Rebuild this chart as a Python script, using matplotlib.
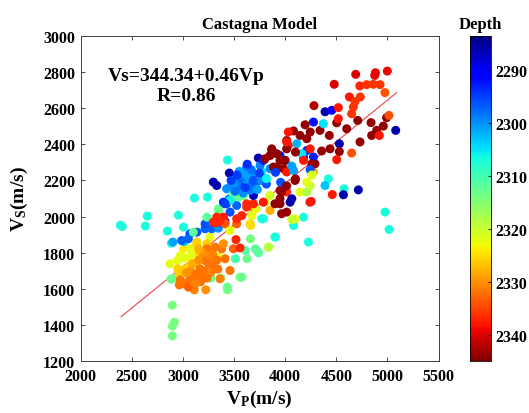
import matplotlib
matplotlib.use("Agg")
import matplotlib.pyplot as plt
import numpy as np

plt.rcParams['font.family'] = ['Liberation Serif', 'DejaVu Serif']
plt.rcParams['font.weight'] = 'bold'
plt.rcParams['mathtext.fontset'] = 'custom'
plt.rcParams['mathtext.rm'] = 'Liberation Serif:bold'
plt.rcParams['mathtext.it'] = 'Liberation Serif:bold'
plt.rcParams['mathtext.bf'] = 'Liberation Serif:bold'

# ---- data: (Vp, Vs, Depth) ----
left_outliers = [(2388,1953,2307),(2407,1945,2307),(2652,2003,2307),(2633,1948,2307),
                 (2848,1920,2307),(2956,2008,2307),(3006,1942,2307),(2887,1853,2307),
                 (3112,2103,2307),(3240,2108,2307),(3436,2313,2307)]
low_green = [(2897,1510,2314),(2917,1416,2314),(2897,1394,2314),(2897,1340,2314),(2883,1654,2313)]
lower_cluster = [
    (2874,1739,2322),(2946,1757,2322),(3011,1772,2322),(3069,1776,2322),(3102,1794,2322),
    (2972,1781,2322),(3266,1887,2322),(3347,1776,2323),(3069,1822,2322),(3006,1822,2324),
    (2965,1683,2326),(2950,1711,2326),(3021,1711,2326),(3069,1729,2326),(3136,1739,2326),
    (3136,1850,2326),(3234,1850,2326),(3167,1794,2326),(3136,1859,2326),
    (2965,1622,2332),(3021,1628,2332),(3069,1656,2332),(3102,1660,2332),(3112,1595,2331),
    (3224,1595,2330),(3200,1674,2332),(3167,1711,2332),(3217,1757,2332),(3265,1776,2331),
    (3234,1822,2332),(3315,1831,2332),(3298,1720,2332),(3363,1656,2331),(3461,1702,2332),
    (3413,1767,2332),(3380,1822,2332),(3396,1850,2330),(3494,1822,2333),
    (3075,1700,2330),(3125,1680,2332),(3174,1640,2332),(3036,1690,2330),(3095,1740,2328),
    (3155,1760,2330),(3214,1700,2332),(3253,1740,2332),(3293,1790,2331),(3332,1760,2332),
    (2976,1650,2332),(3055,1610,2333),(3125,1630,2331),(3234,1660,2332),(3273,1690,2331),
    (3342,1710,2332),(3194,1800,2330),(3155,1820,2328),
    (3519,1873,2337),(3559,1827,2337),
]
green_band = [(3273,1660,2313),(3370,1660,2314),(3559,1665,2314),(3437,1595,2314),
              (3513,1767,2310),(3627,1767,2313),(3611,1813,2311),(3739,1800,2311),
              (3660,1877,2314),(3708,1822,2312),(3840,1831,2318),(3904,1887,2307),
              (3435,1610,2313),(3577,1665,2313),(3722,1813,2312),(3835,1831,2319),
              (2900,1656,2313)]
blue_band = [(2902,1859,2301),(3011,1862,2303),(3069,1905,2296),(3136,1914,2296),
             (3217,1933,2297),(3282,1933,2297),(3053,1877,2297),(3347,1936,2300),
             (3363,1970,2295),(3413,1973,2295),(3461,2025,2296),(3428,2071,2296),
             (3454,2099,2300),(3526,2062,2297),(2988,1868,2297),(3217,1960,2296),
             (3102,1914,2312),(3494,2108,2312),(3542,2108,2312),(3591,2117,2313),
             (3347,2034,2313),(3234,1997,2312),(3347,2043,2313),
             (3331,2172,2286),(3298,2191,2286),(3461,2163,2300),(3559,2172,2293)]
mid_reds = [(3315,1966,2337),(3396,1997,2338),(3347,1970,2337),(3413,1960,2334),
            (3461,1923,2322),(3526,1960,2333),(3624,2071,2337),(3674,2058,2333),
            (3715,2043,2322),(3803,2080,2322),(3852,2034,2328),(3900,2071,2344),
            (3965,2016,2344),(3771,1988,2307),(3663,1951,2325),
            (3787,2080,2338),(3690,2071,2337),(3624,2053,2337),(3576,2006,2337),
            (3526,1988,2337),(3363,1979,2337),(3298,1970,2337),(3331,1997,2337),
            (3852,2117,2321),(3674,2006,2322)]
core = [(3454,2241,2286),(3738,2324,2286),(3690,2117,2287),
        (3582,2247,2306),(3803,2213,2306),(3771,2247,2305),
        (3428,2154,2300),(3542,2200,2298),(3640,2191,2301),(3722,2191,2298),
        (3690,2237,2300),(3624,2274,2298),(3755,2283,2299),(3852,2265,2300),
        (3559,2154,2298),(3657,2145,2299),(3494,2126,2312),(3461,2089,2306),
        (3396,2080,2294),(3413,2071,2295),
        (3500,2180,2300),(3570,2210,2298),(3619,2230,2301),(3668,2170,2298),
        (3728,2150,2301),(3768,2200,2300),(3510,2140,2298),(3590,2130,2300),
        (3668,2260,2298),(3550,2250,2301),(3471,2200,2295),(3530,2230,2295),
        (3609,2160,2295),(3688,2200,2296),(3748,2240,2295),(3817,2180,2296),
        (3629,2290,2294),(3787,2311,2293),(3950,2338,2293),(3999,2311,2292),
        (3852,2338,2344),(3869,2366,2344),(3917,2274,2344),(3983,2265,2344),
        (3950,2145,2344),(3950,2099,2344),
        (4031,2394,2338),(4015,2247,2338),(4015,2136,2337)]
right_mid = [(3787,1988,2307),(3900,1887,2307),(4228,1859,2307),(4180,1997,2307),
             (4082,1951,2307),(4015,2025,2344),(3950,2071,2344),(3965,2136,2344),
             (4048,2080,2286),(4065,2099,2286),(4242,2080,2338),(4097,1988,2322),
             (4146,2136,2322),(4212,2136,2318),(3657,1960,2325),
             (4422,2209,2307),(4390,2172,2303),(4461,2122,2338),(4576,2154,2307),
             (4570,2121,2286),(4716,2148,2286),(4255,2084,2338),(4065,1984,2320),
             (4976,2025,2307),(5016,1929,2307),(4245,2172,2320),(4277,2247,2328)]
upper_band = [(3917,2348,2344),(3885,2274,2344),(3999,2311,2344),(4082,2255,2301),
              (4180,2330,2293),(4292,2292,2344),(4101,2209,2344),(4261,2237,2321),
              (4114,2403,2302),(4015,2421,2344),(4212,2366,2293),(4164,2348,2305),
              (3869,2375,2344),(3803,2320,2344),(3950,2311,2344),(4101,2357,2344),
              (4180,2311,2338),(4277,2330,2293),(4261,2292,2344),(4097,2200,2344),
              (4245,2260,2296),(4261,2230,2321),(4065,2280,2301),(3906,2245,2295),
              (3817,2210,2306),(3956,2190,2296),(4015,2170,2344),(4212,2190,2322),
              (4082,2474,2344),(4146,2449,2344),(4015,2375,2344),(4212,2431,2344),
              (4245,2375,2338),(4195,2508,2344),(4245,2468,2344),(4277,2523,2292),
              (4031,2468,2338),(4015,2413,2338),(4357,2363,2344),(4439,2375,2344),
              (4341,2477,2344),(4432,2449,2344),(4374,2514,2305),(4390,2580,2286),
              (4456,2588,2291),(4504,2519,2344),(4520,2542,2338),(4602,2486,2344),
              (4530,2403,2286),(4530,2360,2344),(4504,2315,2338),(4282,2614,2342),
              (4520,2603,2338),(4650,2352,2334)]
top_right = [(4690,2787,2340),(4883,2796,2339),(4999,2805,2339),(4876,2781,2339),
             (4480,2732,2340),(4730,2723,2337),(4797,2730,2336),(4862,2732,2336),
             (4928,2730,2336),(4976,2686,2334),(4628,2662,2338),(4735,2662,2336),
             (4683,2636,2336),(4667,2606,2336),(4650,2569,2336),
             (4710,2532,2344),(4840,2520,2344),(4992,2547,2344),(5015,2560,2334),
             (4960,2501,2344),(4895,2477,2344),(5081,2477,2286),(4846,2449,2344),
             (4732,2413,2344),(4921,2449,2338)]

fit_intercept = 344.34
fit_slope = 0.46
fit_range = (2395, 5090)
clim = (2283.5, 2345)

groups = [left_outliers, low_green, green_band, lower_cluster, blue_band, mid_reds,
          core, right_mid, upper_band, top_right]
pts = np.array([p for g in groups for p in g], dtype=float)
vp, vs, dep = pts[:, 0], pts[:, 1], pts[:, 2]

fig = plt.figure(figsize=(5.29, 4.14), dpi=100)
ax = fig.add_axes([0.1524, 0.125, 0.6766, 0.786])
xl = np.array(fit_range, dtype=float)
ax.plot(xl, fit_intercept + fit_slope * xl, color='#e8474c', lw=0.8, zorder=1)
sc = ax.scatter(vp, vs, c=dep, cmap='jet', vmin=clim[0], vmax=clim[1], s=42,
                edgecolors='none', zorder=2)

ax.set_xlim(2000, 5500)
ax.set_ylim(1200, 3000)
ax.set_xticks(np.arange(2000, 5501, 500))
ax.set_yticks(np.arange(1200, 3001, 200))
ax.tick_params(direction='in', top=True, right=True, labelsize=11.5, length=3,
               width=0.6, color='#333333')
ax.tick_params(axis='x', pad=5)
ax.tick_params(axis='y', pad=4)
for lab in ax.get_xticklabels() + ax.get_yticklabels():
    lab.set_fontweight('bold')
for sp in ax.spines.values():
    sp.set_linewidth(0.7)
    sp.set_color('#404040')
ax.set_title('Castagna Model', fontsize=12, fontweight='bold', pad=6)
ax.set_xlabel(r'V$_\mathregular{P}$(m/s)', fontsize=14, fontweight='bold', labelpad=3)
ax.set_ylabel(r'V$_\mathregular{S}$(m/s)', fontsize=14, fontweight='bold', labelpad=9)
ax.text(3030, 2725, 'Vs=344.34+0.46Vp\nR=0.86', ha='center', va='center',
        fontsize=14, fontweight='bold', linespacing=1.25)

cax = fig.add_axes([0.888, 0.125, 0.041, 0.786])
cb = fig.colorbar(sc, cax=cax)
cax.set_ylim(clim[1], clim[0])
cb.set_ticks([2290, 2300, 2310, 2320, 2330, 2340])
cax.tick_params(direction='in', labelsize=11.5, length=2, width=0.6, pad=3)
for lab in cax.get_yticklabels():
    lab.set_fontweight('bold')
cb.outline.set_linewidth(0.6)
cax.set_title('Depth', fontsize=12, fontweight='bold', pad=6)

fig.savefig('out.png', dpi=100)
